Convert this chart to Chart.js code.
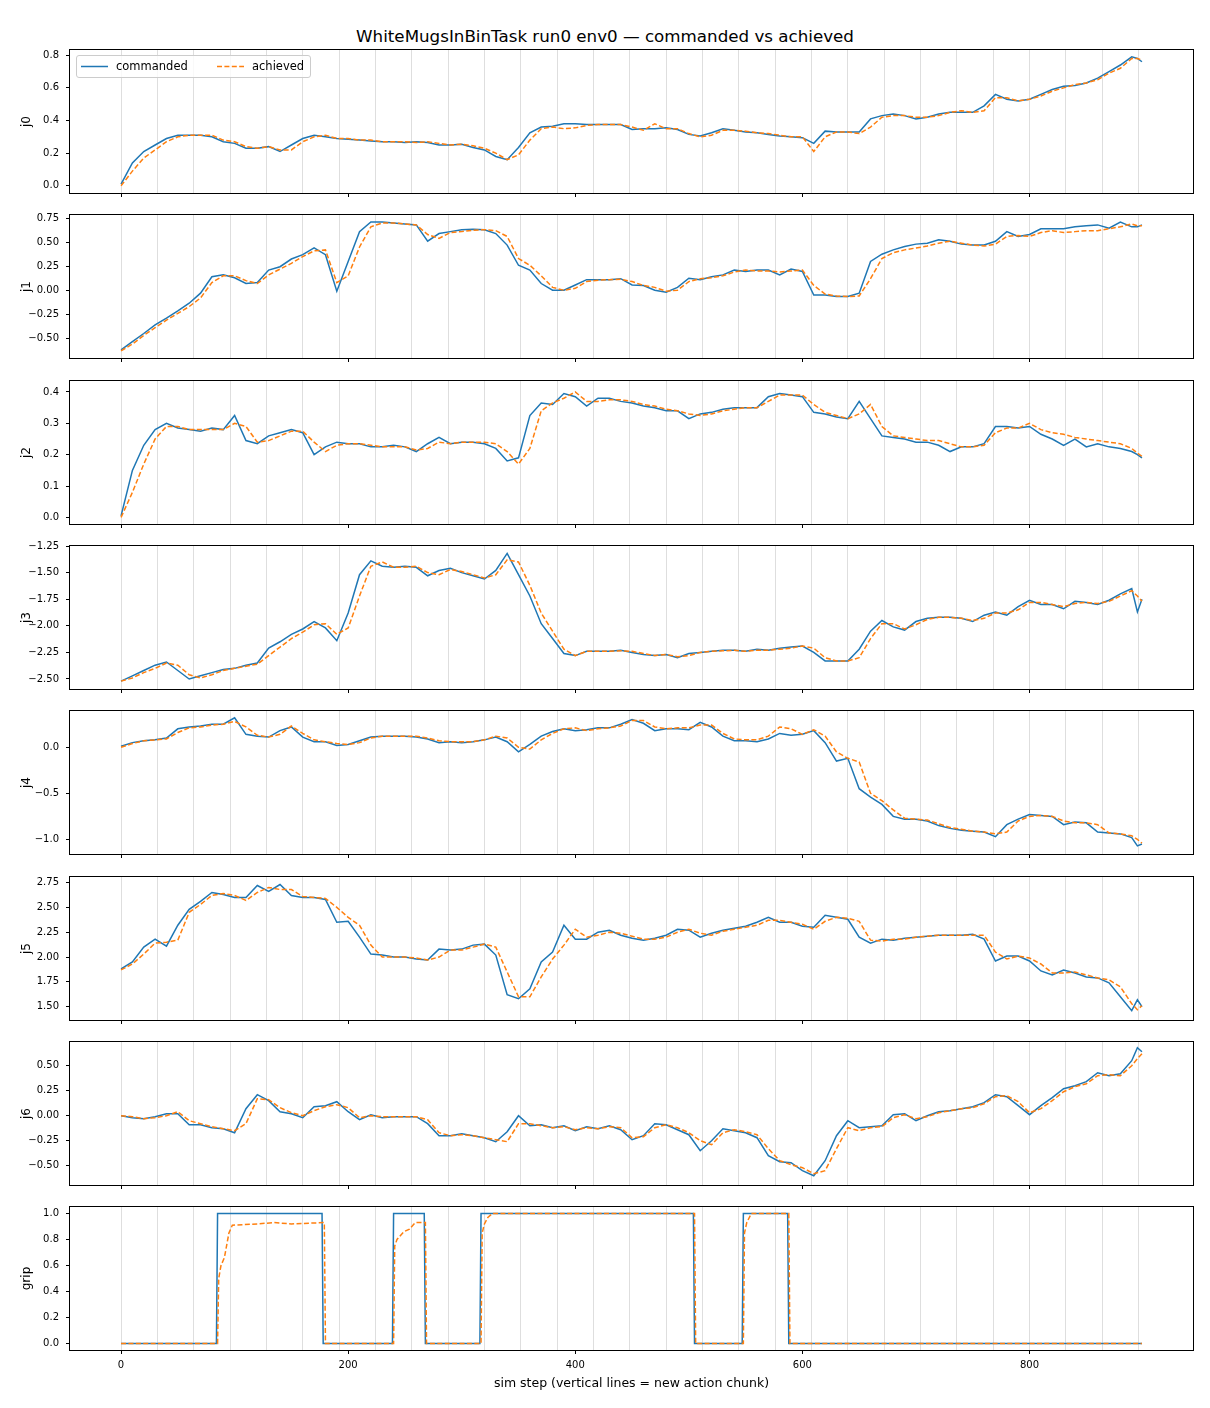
<!DOCTYPE html>
<html><head><meta charset="utf-8">
<script src="https://cdn.jsdelivr.net/npm/chart.js@4.4.1/dist/chart.umd.min.js"></script>
<style>
html,body{margin:0;padding:0;background:#fff;}
#fig{position:relative;width:1210px;height:1408px;background:#fff;font-family:"DejaVu Sans",sans-serif;overflow:hidden;}
#title{position:absolute;left:0;width:1210px;top:26px;line-height:20px;text-align:center;font-size:16.7px;color:#000;}
canvas{position:absolute;left:0;}
#legend{position:absolute;left:76px;top:55px;width:233px;height:21px;border:1px solid #cccccc;border-radius:3px;background:rgba(255,255,255,0.8);font-size:11.5px;color:#000;z-index:5;}
#legend span{position:absolute;top:3px;line-height:14px;}
</style></head>
<body>
<div id="fig">
  <div id="title">WhiteMugsInBinTask run0 env0 — commanded vs achieved</div>
  <div id="legend">
    <svg width="233" height="21" style="position:absolute;left:0;top:0">
      <line x1="4" y1="10.5" x2="31" y2="10.5" stroke="#1f77b4" stroke-width="1.5"/>
      <line x1="140" y1="10.5" x2="167" y2="10.5" stroke="#ff7f0e" stroke-width="1.5" stroke-dasharray="5 2.4"/>
    </svg>
    <span style="left:39px">commanded</span>
    <span style="left:175px">achieved</span>
  </div>
</div>
<script>
// ---------------- data ----------------
const steps = [0,10,20,30,40,50,60,70,80,90,
100,110,120,130,140,150,160,170,180,190,
200,210,220,230,240,250,260,270,280,290,
300,310,320,330,340,350,360,370,380,390,
400,410,420,430,440,450,460,470,480,490,
500,510,520,530,540,550,560,570,580,590,
600,610,620,630,640,650,660,670,680,690,
700,710,720,730,740,750,760,770,780,790,
800,810,820,830,840,850,860,870,880,890,
895,899];

const chunkStarts = [0,32,64,96,128,160,192,224,256,288,320,352,384,416,448,480,512,544,576,608,640,672,704,736,768,800,832,864,896];
const xTicks = [0,200,400,600,800];

const j0Cmd = [0.01,0.14,0.21,0.25,0.29,0.31,0.31,0.31,0.30,0.27,
0.26,0.23,0.23,0.24,0.21,0.25,0.29,0.31,0.30,0.29,
0.285,0.28,0.275,0.27,0.27,0.265,0.27,0.265,0.25,0.25,
0.255,0.235,0.22,0.18,0.16,0.235,0.325,0.36,0.365,0.38,
0.38,0.375,0.375,0.375,0.375,0.345,0.35,0.35,0.355,0.345,
0.315,0.305,0.325,0.35,0.34,0.33,0.325,0.315,0.305,0.30,
0.295,0.26,0.335,0.33,0.33,0.33,0.41,0.43,0.44,0.43,
0.41,0.42,0.44,0.45,0.45,0.45,0.49,0.56,0.53,0.52,
0.53,0.56,0.59,0.61,0.615,0.63,0.66,0.70,0.74,0.79,
0.78,0.76];
const j0Ach = [0.0,0.09,0.17,0.22,0.27,0.30,0.31,0.31,0.31,0.28,
0.27,0.24,0.23,0.24,0.22,0.22,0.27,0.30,0.31,0.29,
0.29,0.28,0.28,0.27,0.27,0.27,0.265,0.27,0.26,0.25,
0.255,0.245,0.23,0.20,0.16,0.19,0.28,0.35,0.36,0.35,
0.355,0.37,0.375,0.375,0.375,0.36,0.34,0.38,0.35,0.35,
0.32,0.30,0.31,0.34,0.34,0.335,0.325,0.32,0.31,0.30,
0.30,0.21,0.30,0.33,0.33,0.32,0.36,0.42,0.43,0.43,
0.42,0.42,0.43,0.45,0.46,0.45,0.46,0.54,0.54,0.52,
0.53,0.55,0.58,0.60,0.62,0.63,0.65,0.69,0.72,0.78,
0.78,0.77];

const j1Cmd = [-0.62,-0.535,-0.45,-0.36,-0.29,-0.215,-0.135,-0.03,0.14,0.16,
0.13,0.07,0.08,0.21,0.245,0.325,0.37,0.44,0.37,-0.01,
0.30,0.61,0.71,0.71,0.70,0.69,0.68,0.51,0.59,0.61,
0.63,0.635,0.63,0.59,0.47,0.26,0.21,0.07,0.0,0.0,
0.055,0.11,0.11,0.11,0.12,0.055,0.05,0.0,-0.02,0.03,
0.125,0.11,0.14,0.16,0.21,0.195,0.21,0.21,0.16,0.22,
0.195,-0.05,-0.05,-0.065,-0.065,-0.03,0.30,0.375,0.42,0.455,
0.48,0.49,0.525,0.51,0.48,0.47,0.47,0.51,0.61,0.56,
0.58,0.64,0.64,0.64,0.66,0.67,0.68,0.645,0.71,0.66,
0.66,0.68];
const j1Ach = [-0.63,-0.56,-0.47,-0.39,-0.31,-0.24,-0.17,-0.08,0.08,0.15,
0.15,0.10,0.07,0.16,0.22,0.28,0.35,0.41,0.42,0.08,
0.15,0.45,0.66,0.70,0.70,0.69,0.68,0.58,0.54,0.60,
0.61,0.625,0.63,0.62,0.56,0.33,0.26,0.15,0.03,0.0,
0.02,0.09,0.105,0.11,0.115,0.09,0.05,0.03,-0.01,0.0,
0.09,0.12,0.13,0.15,0.19,0.21,0.20,0.20,0.19,0.20,
0.21,0.05,-0.04,-0.06,-0.065,-0.06,0.12,0.33,0.39,0.42,
0.44,0.46,0.49,0.51,0.49,0.47,0.46,0.48,0.56,0.57,
0.56,0.60,0.62,0.60,0.61,0.62,0.62,0.64,0.66,0.69,
0.67,0.67];

const j2Cmd = [0.005,0.15,0.23,0.28,0.30,0.285,0.28,0.275,0.285,0.28,
0.325,0.245,0.235,0.26,0.27,0.28,0.27,0.20,0.225,0.24,
0.235,0.235,0.225,0.225,0.23,0.225,0.21,0.235,0.255,0.235,
0.24,0.24,0.235,0.22,0.18,0.19,0.325,0.365,0.36,0.395,
0.385,0.355,0.38,0.38,0.37,0.365,0.355,0.35,0.34,0.34,
0.315,0.33,0.335,0.345,0.35,0.35,0.35,0.385,0.395,0.39,
0.385,0.335,0.33,0.32,0.315,0.37,0.315,0.26,0.255,0.25,
0.24,0.24,0.23,0.21,0.225,0.225,0.235,0.29,0.29,0.285,
0.29,0.265,0.25,0.23,0.25,0.225,0.235,0.225,0.22,0.21,
0.20,0.19];
const j2Ach = [0.0,0.08,0.17,0.25,0.29,0.29,0.28,0.28,0.28,0.28,
0.30,0.29,0.24,0.245,0.26,0.275,0.275,0.24,0.21,0.23,
0.235,0.235,0.23,0.225,0.225,0.225,0.215,0.22,0.24,0.235,
0.24,0.24,0.24,0.235,0.21,0.17,0.22,0.34,0.365,0.38,
0.40,0.37,0.37,0.375,0.375,0.37,0.36,0.355,0.345,0.34,
0.33,0.325,0.33,0.34,0.345,0.35,0.35,0.37,0.39,0.39,
0.39,0.36,0.335,0.325,0.315,0.33,0.36,0.29,0.26,0.255,
0.25,0.245,0.245,0.235,0.225,0.225,0.23,0.27,0.285,0.285,
0.30,0.28,0.27,0.265,0.255,0.25,0.245,0.24,0.235,0.22,
0.205,0.195];

const j3Cmd = [-2.52,-2.47,-2.42,-2.37,-2.34,-2.42,-2.50,-2.47,-2.44,-2.41,
-2.40,-2.37,-2.35,-2.21,-2.15,-2.08,-2.03,-1.96,-2.02,-2.14,
-1.88,-1.52,-1.39,-1.44,-1.45,-1.44,-1.45,-1.53,-1.48,-1.46,
-1.50,-1.53,-1.56,-1.48,-1.32,-1.52,-1.72,-1.98,-2.12,-2.26,
-2.28,-2.24,-2.24,-2.24,-2.23,-2.25,-2.27,-2.28,-2.27,-2.30,
-2.26,-2.25,-2.24,-2.23,-2.23,-2.24,-2.22,-2.23,-2.21,-2.20,
-2.19,-2.25,-2.33,-2.33,-2.33,-2.22,-2.05,-1.95,-2.01,-2.04,
-1.96,-1.93,-1.92,-1.92,-1.93,-1.96,-1.90,-1.87,-1.90,-1.82,
-1.76,-1.80,-1.80,-1.84,-1.77,-1.78,-1.80,-1.76,-1.70,-1.65,
-1.87,-1.75];
const j3Ach = [-2.52,-2.49,-2.44,-2.40,-2.35,-2.37,-2.46,-2.49,-2.46,-2.42,
-2.40,-2.38,-2.36,-2.28,-2.20,-2.12,-2.06,-1.99,-1.98,-2.08,
-2.02,-1.72,-1.44,-1.40,-1.45,-1.45,-1.44,-1.50,-1.52,-1.47,
-1.49,-1.52,-1.55,-1.52,-1.38,-1.40,-1.62,-1.88,-2.05,-2.22,
-2.28,-2.24,-2.24,-2.24,-2.235,-2.24,-2.26,-2.28,-2.27,-2.29,
-2.28,-2.25,-2.24,-2.235,-2.23,-2.24,-2.23,-2.23,-2.22,-2.21,
-2.19,-2.21,-2.30,-2.33,-2.33,-2.30,-2.12,-1.98,-1.98,-2.03,
-1.99,-1.94,-1.92,-1.92,-1.93,-1.95,-1.93,-1.88,-1.88,-1.85,
-1.78,-1.78,-1.80,-1.82,-1.79,-1.78,-1.79,-1.77,-1.72,-1.67,
-1.72,-1.77];

const j4Cmd = [0.01,0.05,0.07,0.08,0.10,0.20,0.22,0.23,0.25,0.25,
0.32,0.14,0.12,0.11,0.18,0.22,0.11,0.06,0.06,0.02,
0.03,0.07,0.11,0.12,0.12,0.12,0.11,0.09,0.05,0.06,
0.05,0.06,0.08,0.11,0.06,-0.05,0.03,0.12,0.17,0.20,
0.18,0.19,0.21,0.21,0.25,0.30,0.26,0.18,0.20,0.20,
0.19,0.27,0.22,0.12,0.07,0.07,0.06,0.09,0.15,0.13,
0.14,0.18,0.05,-0.15,-0.12,-0.45,-0.54,-0.62,-0.75,-0.78,
-0.78,-0.80,-0.85,-0.88,-0.90,-0.91,-0.92,-0.97,-0.84,-0.78,
-0.73,-0.74,-0.75,-0.84,-0.81,-0.82,-0.92,-0.93,-0.94,-0.98,
-1.07,-1.05];
const j4Ach = [0.0,0.04,0.07,0.08,0.09,0.16,0.21,0.22,0.24,0.25,
0.28,0.22,0.13,0.11,0.14,0.23,0.15,0.08,0.06,0.04,
0.03,0.05,0.10,0.12,0.12,0.12,0.12,0.10,0.07,0.06,
0.06,0.06,0.08,0.12,0.10,0.0,-0.02,0.08,0.15,0.20,
0.21,0.18,0.20,0.21,0.23,0.29,0.29,0.22,0.20,0.21,
0.21,0.24,0.24,0.15,0.09,0.08,0.08,0.12,0.22,0.20,
0.14,0.19,0.12,-0.05,-0.12,-0.16,-0.50,-0.58,-0.68,-0.77,
-0.78,-0.79,-0.83,-0.87,-0.89,-0.91,-0.92,-0.94,-0.92,-0.80,
-0.75,-0.74,-0.75,-0.80,-0.82,-0.82,-0.84,-0.93,-0.94,-0.96,
-1.00,-1.04];

const j5Cmd = [1.88,1.95,2.10,2.18,2.11,2.32,2.48,2.56,2.65,2.63,
2.60,2.60,2.72,2.66,2.73,2.62,2.60,2.60,2.58,2.35,
2.36,2.20,2.03,2.02,2.00,2.00,1.98,1.97,2.08,2.07,
2.08,2.12,2.13,2.02,1.62,1.58,1.68,1.95,2.05,2.32,
2.18,2.18,2.25,2.27,2.22,2.19,2.17,2.19,2.22,2.28,
2.27,2.20,2.24,2.27,2.29,2.31,2.35,2.40,2.35,2.35,
2.31,2.30,2.42,2.40,2.38,2.20,2.14,2.18,2.17,2.19,
2.20,2.21,2.22,2.22,2.22,2.23,2.18,1.96,2.01,2.01,
1.96,1.86,1.82,1.87,1.84,1.80,1.79,1.74,1.60,1.46,
1.57,1.50];
const j5Ach = [1.87,1.93,2.03,2.14,2.15,2.17,2.45,2.53,2.62,2.64,
2.62,2.57,2.65,2.70,2.68,2.68,2.61,2.60,2.59,2.50,
2.40,2.32,2.12,2.00,2.00,2.00,1.99,1.97,2.00,2.07,
2.07,2.10,2.13,2.10,1.85,1.60,1.60,1.80,1.98,2.12,
2.28,2.20,2.22,2.25,2.24,2.21,2.18,2.18,2.20,2.25,
2.28,2.24,2.22,2.26,2.28,2.30,2.32,2.37,2.37,2.35,
2.33,2.28,2.36,2.40,2.39,2.36,2.17,2.16,2.18,2.18,
2.20,2.21,2.22,2.22,2.22,2.22,2.22,2.05,1.98,2.01,
1.99,1.93,1.84,1.84,1.85,1.82,1.79,1.77,1.70,1.53,
1.47,1.51];

const j6Cmd = [0.00,-0.02,-0.03,-0.01,0.02,0.02,-0.09,-0.09,-0.12,-0.13,
-0.17,0.07,0.21,0.15,0.04,0.02,-0.02,0.09,0.10,0.14,
0.04,-0.04,0.01,-0.02,-0.01,-0.01,-0.01,-0.08,-0.20,-0.20,
-0.18,-0.20,-0.22,-0.26,-0.16,0.00,-0.10,-0.09,-0.12,-0.10,
-0.15,-0.11,-0.13,-0.10,-0.14,-0.24,-0.20,-0.08,-0.09,-0.14,
-0.19,-0.35,-0.25,-0.13,-0.15,-0.17,-0.22,-0.40,-0.46,-0.47,
-0.55,-0.60,-0.45,-0.20,-0.05,-0.12,-0.11,-0.10,0.01,0.02,
-0.05,0.00,0.04,0.05,0.07,0.09,0.13,0.21,0.19,0.10,
0.01,0.10,0.18,0.27,0.30,0.34,0.43,0.40,0.42,0.55,
0.68,0.64];
const j6Ach = [0.0,-0.01,-0.03,-0.02,0.0,0.04,-0.05,-0.08,-0.11,-0.13,
-0.15,-0.08,0.17,0.16,0.08,0.03,0.0,0.05,0.09,0.11,
0.08,-0.02,0.0,-0.01,-0.01,-0.01,-0.01,-0.04,-0.17,-0.20,
-0.19,-0.20,-0.22,-0.24,-0.26,-0.08,-0.08,-0.10,-0.12,-0.11,
-0.14,-0.12,-0.13,-0.11,-0.12,-0.22,-0.21,-0.12,-0.09,-0.12,
-0.17,-0.25,-0.29,-0.17,-0.14,-0.16,-0.19,-0.33,-0.45,-0.49,
-0.52,-0.58,-0.55,-0.33,-0.12,-0.15,-0.12,-0.11,-0.02,0.01,
-0.03,-0.01,0.03,0.05,0.07,0.08,0.12,0.19,0.20,0.14,
0.03,0.07,0.15,0.24,0.29,0.32,0.40,0.41,0.40,0.50,
0.57,0.62];

const gripCmdSteps = [0,84,85,177,178,239,240,267,268,316,317,504,505,547,548,587,588,899];
const gripCmd      = [0,0,1,1,0,0,1,1,0,0,1,1,0,0,1,1,0,0];
const gripAchSteps = [0,85,86,88,91,95,98,120,135,150,179,180,240,241,243,249,254,259,268,269,317,318,320,323,327,505,506,548,549,551,555,588,589,899];
const gripAch      = [0,0,0.50,0.60,0.66,0.85,0.91,0.92,0.93,0.92,0.93,0,0,0.75,0.80,0.86,0.88,0.93,0.93,0,0,0.85,0.92,0.97,1.0,1.0,0,0,0.85,0.93,1.0,1.0,0,0];

const j0Ticks = [0.0,0.2,0.4,0.6,0.8];
const j1Ticks = [-0.50,-0.25,0.00,0.25,0.50,0.75];
const j2Ticks = [0.0,0.1,0.2,0.3,0.4];
const j3Ticks = [-2.50,-2.25,-2.00,-1.75,-1.50,-1.25];
const j4Ticks = [-1.0,-0.5,0.0];
const j5Ticks = [1.50,1.75,2.00,2.25,2.50,2.75];
const j6Ticks = [-0.50,-0.25,0.00,0.25,0.50];
const gripTicks = [0.0,0.2,0.4,0.6,0.8,1.0];

// ---------------- layout / styling ----------------
const FONT = "'DejaVu Sans', sans-serif";
Chart.defaults.font.family = FONT;
const BLUE = '#1f77b4', ORANGE = '#ff7f0e';
const XMIN = -44.95, XMAX = 943.95;
const tops = [50,215,381,546,711,877,1042,1207];
const PLOT_H = 143, PAD_TOP = 16, LEFT_W = 70, RIGHT_PAD = 17;

const panels = [
  {name:'j0', xs:steps, cmd:j0Cmd, xa:steps, ach:j0Ach, ticks:j0Ticks, dec:1, min:-0.044, max:0.832},
  {name:'j1', xs:steps, cmd:j1Cmd, xa:steps, ach:j1Ach, ticks:j1Ticks, dec:2, min:-0.705, max:0.783},
  {name:'j2', xs:steps, cmd:j2Cmd, xa:steps, ach:j2Ach, ticks:j2Ticks, dec:1, min:-0.021, max:0.435},
  {name:'j3', xs:steps, cmd:j3Cmd, xa:steps, ach:j3Ach, ticks:j3Ticks, dec:2, min:-2.594, max:-1.25},
  {name:'j4', xs:steps, cmd:j4Cmd, xa:steps, ach:j4Ach, ticks:j4Ticks, dec:1, min:-1.158, max:0.393},
  {name:'j5', xs:steps, cmd:j5Cmd, xa:steps, ach:j5Ach, ticks:j5Ticks, dec:2, min:1.366, max:2.806},
  {name:'j6', xs:steps, cmd:j6Cmd, xa:steps, ach:j6Ach, ticks:j6Ticks, dec:2, min:-0.693, max:0.737},
  {name:'grip', xs:gripCmdSteps, cmd:gripCmd, xa:gripAchSteps, ach:gripAch, ticks:gripTicks, dec:1, min:-0.05, max:1.05}
];

const framePlugin = {
  id:'frame',
  afterDatasetsDraw(chart){
    const a = chart.chartArea, ctx = chart.ctx;
    ctx.save();
    ctx.strokeStyle = '#000';
    ctx.lineWidth = 1;
    ctx.strokeRect(Math.round(a.left)-0.5, Math.round(a.top)-0.5, Math.round(a.right-a.left)+1, Math.round(a.bottom-a.top)+1);
    ctx.restore();
  }
};

function fmt(v, dec){ return v.toFixed(dec).replace('-', '\u2212'); }

const fig = document.getElementById('fig');
panels.forEach((p, i) => {
  const isLast = i === panels.length - 1;
  const bottomH = isLast ? (1408 - (tops[i] + PLOT_H)) : 16;
  const cv = document.createElement('canvas');
  const H = PAD_TOP + PLOT_H + bottomH;
  cv.width = 1210; cv.height = H;
  cv.style.top = (tops[i] - PAD_TOP) + 'px';
  cv.style.width = '1210px'; cv.style.height = H + 'px';
  fig.appendChild(cv);

  new Chart(cv.getContext('2d'), {
    type:'line',
    data:{datasets:[
      {label:'commanded', data:p.xs.map((s,k)=>({x:s,y:p.cmd[k]})), borderColor:BLUE, backgroundColor:BLUE,
       borderWidth:1.5, pointRadius:0, tension:0, fill:false, order:1, xAxisID:'x', yAxisID:'y'},
      {label:'achieved', data:p.xa.map((s,k)=>({x:s,y:p.ach[k]})), borderColor:ORANGE, backgroundColor:ORANGE,
       borderWidth:1.5, borderDash:[5,2.4], pointRadius:0, tension:0, fill:false, order:0, xAxisID:'x', yAxisID:'y'}
    ]},
    options:{
      responsive:false, animation:false, devicePixelRatio:1, events:[],
      layout:{padding:{top:PAD_TOP, right:RIGHT_PAD, left:0, bottom:0}},
      plugins:{legend:{display:false}, tooltip:{enabled:false}, title:{display:false}},
      scales:{
        x:{type:'linear', position:'bottom', min:XMIN, max:XMAX,
           afterBuildTicks:s=>{ s.ticks = xTicks.map(v=>({value:v})); },
           afterFit:s=>{ s.height = bottomH; },
           grid:{display:true, drawOnChartArea:false, drawTicks:true, tickLength:4, color:'#000', lineWidth:1},
           border:{display:false},
           ticks:{display:isLast, autoSkip:false, maxRotation:0, padding:5, color:'#000', font:{family:FONT, size:10},
                  callback:v=>String(v)},
           title:{display:isLast, text:'sim step (vertical lines = new action chunk)', color:'#000',
                  font:{family:FONT, size:12.5}, padding:{top:0, bottom:17}}
        },
        chunks:{type:'linear', position:'top', min:XMIN, max:XMAX,
           afterBuildTicks:s=>{ s.ticks = chunkStarts.map(v=>({value:v})); },
           afterFit:s=>{ s.height = 0; },
           grid:{display:true, drawOnChartArea:true, drawTicks:false, color:'rgba(0,0,0,0.13)', lineWidth:1},
           border:{display:false},
           ticks:{display:false}
        },
        y:{type:'linear', position:'left', min:p.min, max:p.max,
           afterBuildTicks:s=>{ s.ticks = p.ticks.map(v=>({value:v})); },
           afterFit:s=>{ s.width = LEFT_W; },
           grid:{display:true, drawOnChartArea:false, drawTicks:true, tickLength:4, color:'#000', lineWidth:1},
           border:{display:false},
           ticks:{color:'#000', padding:7, font:{family:FONT, size:10}, callback:v=>fmt(v, p.dec)},
           title:{display:true, text:p.name, color:'#000', font:{family:FONT, size:12}, padding:{top:20, bottom:0}}
        }
      }
    },
    plugins:[framePlugin]
  });
});
</script>
</body></html>
